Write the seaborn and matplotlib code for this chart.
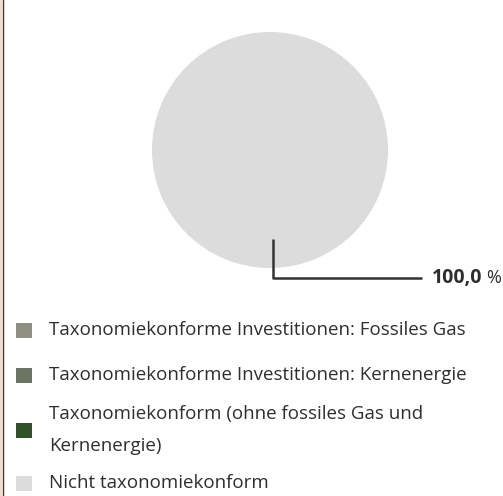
import matplotlib
matplotlib.use("Agg")
import matplotlib.pyplot as plt
import seaborn as sns
from matplotlib.lines import Line2D
from matplotlib.patches import Rectangle

# data
categories = [
    "Taxonomiekonforme Investitionen: Fossiles Gas",
    "Taxonomiekonforme Investitionen: Kernenergie",
    "Taxonomiekonform (ohne fossiles Gas und\nKernenergie)",
    "Nicht taxonomiekonform",
]
values = [0.0, 0.0, 0.0, 100.0]
colors = ["#8e8f80", "#6b7563", "#2f5228", "#dcdcdc"]

sns.set_style("white")
plt.rcParams["font.family"] = ["Open Sans", "DejaVu Sans"]
text_col = "#2e2e2e"

W, H = 503, 496
fig = plt.figure(figsize=(W / 100, H / 100), dpi=100)
ax = fig.add_axes([152 / W, 1 - 268 / H, 236 / W, 236 / H])
wedges, _ = ax.pie(values, colors=colors, startangle=90, counterclock=False,
                   wedgeprops=dict(linewidth=0))
ax.set_xlim(-1, 1)
ax.set_ylim(-1, 1)
ax.set_aspect("equal")
ax.axis("off")

# leader line + label
ax.plot([0.025, 0.025, 1.29], [-0.75, -1.085, -1.085], color="#333333", lw=1.8,
        clip_on=False, solid_capstyle="butt")
val_txt = f"{values[3]:.1f}".replace(".", ",")
t1 = ax.text(1.37, -1.085, val_txt, fontsize=14, fontweight="bold",
             color=text_col, va="center", ha="left", clip_on=False)
fig.canvas.draw()
bb = t1.get_window_extent()
fig.text(bb.x1 / W + 4 / W, (bb.y0 + bb.y1) / 2 / H,
         "%", fontsize=13, color=text_col, va="center", ha="left")

# legend, placed by hand
row_y = [330, 375, 430, 483]
for wedge, label, y in zip(wedges, categories, row_y):
    fig.add_artist(Rectangle((16 / W, 1 - (y + 8) / H), 16 / W, 15 / H,
                             transform=fig.transFigure,
                             color=wedge.get_facecolor(), lw=0))
    fig.text(49 / W, 1 - y / H, label, fontsize=13.5, color=text_col,
             va="center", ha="left", linespacing=2.05)

# left border
fig.add_artist(Rectangle((0, 0), 2 / W, 1, transform=fig.transFigure,
                         color="#f3dcc9", lw=0))
fig.add_artist(Line2D([2.5 / W, 2.5 / W], [0, 1], transform=fig.transFigure,
                      color="#4a3424", lw=1))

fig.savefig("out.png", dpi=100)
